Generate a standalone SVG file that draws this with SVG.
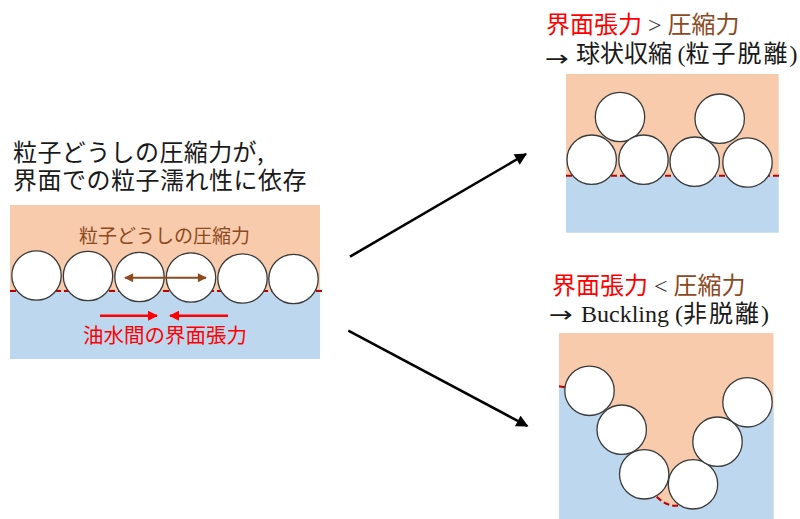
<svg xmlns="http://www.w3.org/2000/svg" width="800" height="519" viewBox="0 0 800 519">
  <style>
    .oil { fill: #F8CBAD; }
    .water { fill: #BDD7EE; }
    .p { fill: #FFFFFF; stroke: #3A3A3A; stroke-width: 1.3; }
    .iface { fill: none; stroke: #C00000; stroke-width: 2; stroke-dasharray: 6 3; }
    .jp { font-family: "Noto Sans CJK JP", "Noto Sans", sans-serif; }
    .rm { font-family: "Liberation Serif", "Noto Sans CJK JP", serif; }
    .arw { font-family: "DejaVu Sans", sans-serif; }
    .red { fill: #FF0000; }
    .brown { fill: #8C4A1E; }
    .ink { fill: #1A1A1A; }
  </style>
  <defs>
    <marker id="headBlack" viewBox="0 0 10 10" refX="9" refY="5" markerWidth="14" markerHeight="12" markerUnits="userSpaceOnUse" orient="auto">
      <path d="M0,0 L10,5 L0,10 Z" fill="#000"/>
    </marker>
    <marker id="headBrown" viewBox="0 0 10 10" refX="9" refY="5" markerWidth="10" markerHeight="9" markerUnits="userSpaceOnUse" orient="auto-start-reverse">
      <path d="M0,0 L10,5 L0,10 Z" fill="#8C4A1E"/>
    </marker>
    <marker id="headRed" viewBox="0 0 10 10" refX="9" refY="5" markerWidth="11" markerHeight="10" markerUnits="userSpaceOnUse" orient="auto">
      <path d="M0,0 L10,5 L0,10 Z" fill="#FF0000"/>
    </marker>
  </defs>

  <!-- Initial state: flat particle layer at the oil/water interface -->
  <g id="initial">
    <text class="jp ink" x="13" y="161" font-size="24" letter-spacing="0.4">粒子どうしの圧縮力が,</text>
    <text class="jp ink" x="13" y="189" font-size="24" letter-spacing="0.5">界面での粒子濡れ性に依存</text>
    <rect class="oil" x="10" y="205" width="310" height="86"/>
    <rect class="water" x="10" y="291" width="310" height="68"/>
    <line class="iface" x1="10" y1="291" x2="322" y2="291"/>
    <circle class="p" cx="36.5" cy="275.5" r="24.7"/>
    <circle class="p" cx="88" cy="276" r="24.7"/>
    <circle class="p" cx="139.5" cy="277" r="24.7"/>
    <circle class="p" cx="191" cy="277.5" r="24.7"/>
    <circle class="p" cx="242.5" cy="278.5" r="24.7"/>
    <circle class="p" cx="293.5" cy="279" r="24.7"/>
    <text class="jp brown" x="79" y="243" font-size="19">粒子どうしの圧縮力</text>
    <line x1="125" y1="277.7" x2="206" y2="277.7" stroke="#8C4A1E" stroke-width="2" marker-start="url(#headBrown)" marker-end="url(#headBrown)"/>
    <line x1="100" y1="315.7" x2="157" y2="315.7" stroke="#FF0000" stroke-width="2.5" marker-end="url(#headRed)"/>
    <line x1="228" y1="315.7" x2="170" y2="315.7" stroke="#FF0000" stroke-width="2.5" marker-end="url(#headRed)"/>
    <text class="jp red" x="83" y="343" font-size="20.5">油水間の界面張力</text>
  </g>

  <!-- Outcome 1: particles pile up and detach -->
  <g id="detach">
    <text x="546" y="33" font-size="24"><tspan class="jp red">界面張力</tspan><tspan class="rm" fill="#333"> &gt; </tspan><tspan class="jp brown">圧縮力</tspan></text>
    <text class="arw ink" transform="translate(545,66) scale(1.3,1)" font-size="22">→</text>
    <text class="ink" x="576" y="62" font-size="24"><tspan class="jp">球状収縮 </tspan><tspan class="rm">(</tspan><tspan class="jp" letter-spacing="2">粒子脱離</tspan><tspan class="rm">)</tspan></text>
    <rect class="oil" x="566" y="74" width="212.7" height="101.7"/>
    <rect class="water" x="566" y="175.7" width="212.7" height="57"/>
    <line class="iface" x1="566" y1="175.7" x2="779" y2="175.7"/>
    <circle class="p" cx="620" cy="117" r="24.7"/>
    <circle class="p" cx="719.7" cy="118.7" r="24.7"/>
    <circle class="p" cx="591.7" cy="159.7" r="24.7"/>
    <circle class="p" cx="643.5" cy="159.7" r="24.7"/>
    <circle class="p" cx="694.7" cy="161.7" r="24.7"/>
    <circle class="p" cx="747.5" cy="162.5" r="24.7"/>
  </g>

  <!-- Outcome 2: the particle layer buckles into the water -->
  <g id="buckling">
    <text x="552" y="294" font-size="24"><tspan class="jp red">界面張力</tspan><tspan class="rm" fill="#333"> &lt; </tspan><tspan class="jp brown">圧縮力</tspan></text>
    <text class="arw ink" transform="translate(549,322) scale(1.3,1)" font-size="22">→</text>
    <text class="ink" x="581" y="322" font-size="24"><tspan class="rm">Buckling (</tspan><tspan class="jp" letter-spacing="2">非脱離</tspan><tspan class="rm">)</tspan></text>
    <rect class="oil" x="559" y="333" width="214.5" height="186"/>
    <path class="water" d="M559,386 L589.5,390.8 L621.7,429.7 L644.2,474.3 L656.7,496.7 Q667,507 678.3,505.5 L693,484.3 L717.5,441.7 L747.5,402.3 L773.5,406.5 L773.5,519 L559,519 Z"/>
    <path class="iface" d="M559,386.3 L566,387.4"/>
    <path class="iface" d="M656.7,496.7 Q667,507 678.3,505.5"/>
    <circle class="p" cx="589.5" cy="390.8" r="24.7"/>
    <circle class="p" cx="621.7" cy="429.7" r="24.7"/>
    <circle class="p" cx="644.2" cy="474.3" r="24.7"/>
    <circle class="p" cx="693" cy="484.3" r="24.7"/>
    <circle class="p" cx="717.5" cy="441.7" r="24.7"/>
    <circle class="p" cx="747.5" cy="402.3" r="24.7"/>
  </g>

  <!-- Connectors -->
  <g id="connectors">
    <line x1="350" y1="256.7" x2="526" y2="154" stroke="#000" stroke-width="2.5" marker-end="url(#headBlack)"/>
    <line x1="348.3" y1="330.7" x2="527.3" y2="426" stroke="#000" stroke-width="2.5" marker-end="url(#headBlack)"/>
  </g>
</svg>
